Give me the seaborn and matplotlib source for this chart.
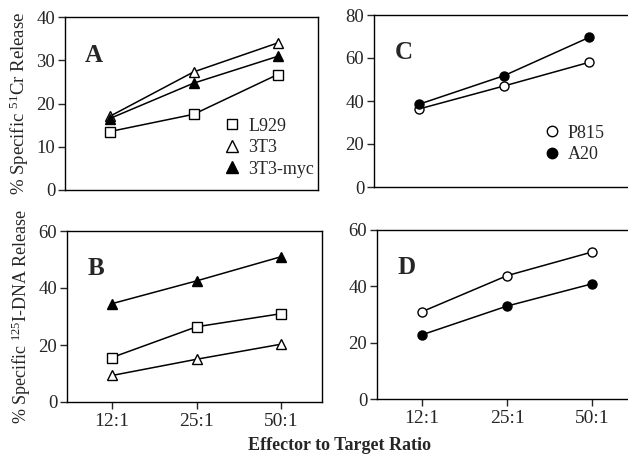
import numpy as np
import pandas as pd
import matplotlib
matplotlib.use("Agg")
import matplotlib.pyplot as plt
import seaborn as sns
from matplotlib.lines import Line2D

sns.set_style("ticks")
plt.rcParams['font.family'] = ['Liberation Serif', 'DejaVu Serif']
plt.rcParams['mathtext.fontset'] = 'custom'
plt.rcParams['mathtext.rm'] = 'Liberation Serif'
plt.rcParams['mathtext.default'] = 'regular'

ratios = ["12:1", "25:1", "50:1"]

# Panel A: 51Cr release
a_L929 = [13.5, 17.5, 26.7]
a_3T3 = [17.0, 27.3, 34.0]
a_3T3myc = [16.5, 24.7, 30.9]
# Panel B: 125I-DNA release
b_L929 = [15.6, 26.4, 31.0]
b_3T3 = [9.3, 15.0, 20.3]
b_3T3myc = [34.5, 42.5, 51.0]
# Panel C: 51Cr release
c_P815 = [36.3, 47.0, 58.0]
c_A20 = [38.5, 51.8, 69.6]
# Panel D: 125I-DNA release
d_P815 = [31.0, 43.8, 52.2]
d_A20 = [22.8, 33.0, 40.9]

labels_left = ["L929", "3T3", "3T3-myc"]
labels_right = ["P815", "A20"]

styles = {
    "L929": dict(marker="s", mfc="white", ms=6.5),
    "3T3": dict(marker="^", mfc="white", ms=7),
    "3T3-myc": dict(marker="^", mfc="black", ms=7),
    "P815": dict(marker="o", mfc="white", ms=6.5),
    "A20": dict(marker="o", mfc="black", ms=6.5),
}

fig = plt.figure(figsize=(6.28, 4.59), dpi=100)
W, H = 628.0, 459.0

def mkax(l, r, t, b):
    return fig.add_axes([l / W, (H - b) / H, (r - l) / W, (b - t) / H])

axA = mkax(65, 318, 17, 190)
axB = mkax(67, 322, 231, 402)
axC = mkax(374, 630, 15, 187)
axD = mkax(377, 633, 230, 399)

xpos = np.arange(len(ratios))

def draw(ax, series, names):
    for vals, name in zip(series, names):
        st = styles[name]
        df = pd.DataFrame({"x": xpos, "y": vals})
        sns.lineplot(data=df, x="x", y="y", ax=ax, color="black", lw=1.1,
                     marker=st["marker"], markersize=st["ms"],
                     markerfacecolor=st["mfc"], markeredgecolor="black",
                     markeredgewidth=1.0)

draw(axA, [a_L929, a_3T3, a_3T3myc], labels_left)
draw(axB, [b_L929, b_3T3, b_3T3myc], labels_left)
draw(axC, [c_P815, c_A20], labels_right)
draw(axD, [d_P815, d_A20], labels_right)

ylims = {axA: (0, 40, 10), axB: (0, 60, 20), axC: (0, 80, 20), axD: (0, 60, 20)}
for ax, (lo, hi, st) in ylims.items():
    ax.set_ylim(lo, hi)
    ax.set_yticks(np.arange(lo, hi + 1, st))
    ax.set_xlim(-0.53, 2.48)
    ax.set_xlabel("")
    ax.set_ylabel("")
    for s in ax.spines.values():
        s.set_linewidth(1.0)
        s.set_color("black")
    ax.tick_params(axis="y", direction="out", length=5, width=1.0, labelsize=13.5, pad=2)
    ax.tick_params(axis="x", direction="out", length=5, width=1.0, labelsize=14, pad=3)

for ax in (axA, axC):
    ax.set_xticks([])
for ax in (axB, axD):
    ax.set_xticks(xpos)
    ax.set_xticklabels(ratios)

for ax, letter in zip((axA, axB, axC, axD), "ABCD"):
    ax.text(0.08, 0.78, letter, transform=ax.transAxes, fontsize=18,
            fontweight="bold", ha="left", va="center")

axA.set_ylabel("% Specific $^{51}$Cr Release", fontsize=13.5, labelpad=4)
axB.set_ylabel("% Specific $^{125}$I-DNA Release", fontsize=13, labelpad=4)

def leg_handles(names):
    hs = []
    for n in names:
        st = styles[n]
        hs.append(Line2D([], [], ls="none", marker=st["marker"], ms=st["ms"] + 1,
                         mfc=st["mfc"], mec="black", mew=1.0, label=n))
    return hs

axA.legend(handles=leg_handles(labels_left), loc="upper left",
           bbox_to_anchor=(0.595, 0.47), frameon=False, fontsize=13,
           handlelength=0.8, handletextpad=0.5, labelspacing=0.25, borderpad=0)
axC.legend(handles=leg_handles(labels_right), loc="upper left",
           bbox_to_anchor=(0.63, 0.415), frameon=False, fontsize=13,
           handlelength=0.8, handletextpad=0.5, labelspacing=0.25, borderpad=0)

fig.text(340 / W, 1 - 445 / H, "Effector to Target Ratio", fontsize=13,
         fontweight="bold", ha="center", va="center")

fig.savefig("out.png", dpi=100)
